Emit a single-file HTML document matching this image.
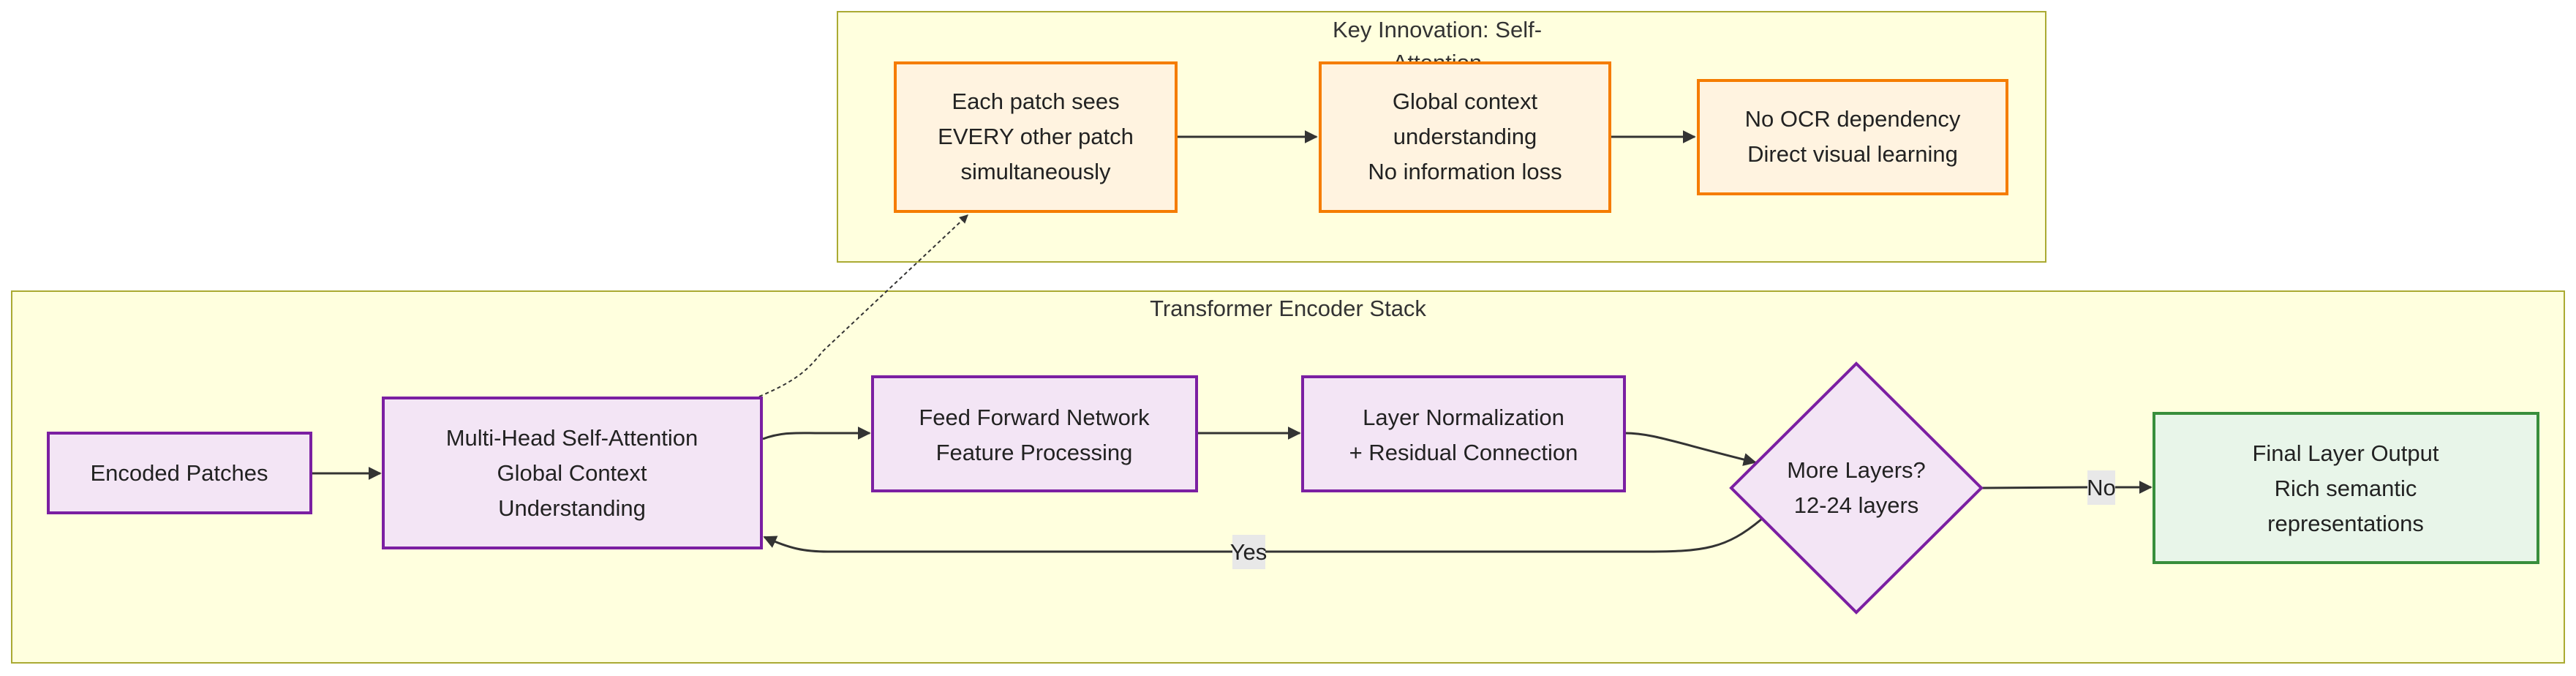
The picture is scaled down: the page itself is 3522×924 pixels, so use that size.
<!DOCTYPE html>
<html><head><meta charset="utf-8"><style>
html,body{margin:0;padding:0;background:#fff;width:3522px;height:924px;overflow:hidden}
text{font-family:"Liberation Sans","DejaVu Sans",sans-serif;font-size:31px;fill:#222}
.t{fill:#333}
</style></head><body>
<svg width="3522" height="924" viewBox="0 0 3522 924" xmlns="http://www.w3.org/2000/svg">
<defs>
<marker id="ah" viewBox="0 0 10 10" refX="9" refY="5" markerWidth="6" markerHeight="6" orient="auto"><path d="M0,0L10,5L0,10z" fill="#333"/></marker>
</defs>
<!-- clusters -->
<rect x="1145" y="16" width="1652" height="342" fill="#ffffde" stroke="#aaaa33" stroke-width="2"/>
<text class="t" x="1965" y="51" text-anchor="middle">Key Innovation: Self-</text>
<text class="t" x="1965" y="96" text-anchor="middle">Attention</text>
<rect x="16" y="398" width="3490" height="508" fill="#ffffde" stroke="#aaaa33" stroke-width="2"/>
<text class="t" x="1761" y="432" text-anchor="middle">Transformer Encoder Stack</text>

<!-- edges -->
<g fill="none" stroke="#333" stroke-width="3">
<path d="M1608 187 L1800 187" marker-end="url(#ah)"/>
<path d="M2201 187 L2317 187" marker-end="url(#ah)"/>
<path d="M425 647 L520 647" marker-end="url(#ah)"/>
<path d="M1043 600 C1070 590 1090 592 1120 592 L1189 592" marker-end="url(#ah)"/>
<path d="M1636 592 L1777 592" marker-end="url(#ah)"/>
<path d="M2221 592 C2260 592 2290 605 2400 632" marker-end="url(#ah)"/>
<path d="M2709 667 L2854 666 M2892 666 L2941 666" marker-end="url(#ah)"/>
<path d="M2408 710 C2360 750 2330 754 2250 754 L1132 754 C1100 754 1080 750 1045 734" marker-end="url(#ah)"/>
<path d="M1038 542 C1090 520 1105 505 1125 480 L1323 294" stroke-width="2" stroke-dasharray="5,4" marker-end="url(#ah)"/>
</g>

<!-- nodes -->
<g stroke-width="4">
<rect x="1224" y="86" width="384" height="203" fill="#fff3e0" stroke="#f57c00"/>
<rect x="1805" y="86" width="396" height="203" fill="#fff3e0" stroke="#f57c00"/>
<rect x="2322" y="110" width="422" height="155" fill="#fff3e0" stroke="#f57c00"/>
<rect x="66" y="592" width="359" height="109" fill="#f3e5f5" stroke="#7b1fa2"/>
<rect x="524" y="544" width="517" height="205" fill="#f3e5f5" stroke="#7b1fa2"/>
<rect x="1193" y="515" width="443" height="156" fill="#f3e5f5" stroke="#7b1fa2"/>
<rect x="1781" y="515" width="440" height="156" fill="#f3e5f5" stroke="#7b1fa2"/>
<polygon points="2538,497 2709,667 2538,837 2367,667" fill="#f3e5f5" stroke="#7b1fa2"/>
<rect x="2945" y="565" width="525" height="204" fill="#e8f5e9" stroke="#388e3c"/>
</g>
<rect x="1685" y="731" width="45" height="47" fill="#e8e8e8"/>
<text x="1707" y="765" text-anchor="middle">Yes</text>
<rect x="2854" y="643" width="38" height="47" fill="#e8e8e8"/>
<text x="2873" y="677" text-anchor="middle">No</text>

<g text-anchor="middle">
<text x="1416" y="149">Each patch sees</text>
<text x="1416" y="197">EVERY other patch</text>
<text x="1416" y="245">simultaneously</text>
<text x="2003" y="149">Global context</text>
<text x="2003" y="197">understanding</text>
<text x="2003" y="245">No information loss</text>
<text x="2533" y="173">No OCR dependency</text>
<text x="2533" y="221">Direct visual learning</text>
<text x="245" y="657">Encoded Patches</text>
<text x="782" y="609">Multi-Head Self-Attention</text>
<text x="782" y="657">Global Context</text>
<text x="782" y="705">Understanding</text>
<text x="1414" y="581">Feed Forward Network</text>
<text x="1414" y="629">Feature Processing</text>
<text x="2001" y="581">Layer Normalization</text>
<text x="2001" y="629">+ Residual Connection</text>
<text x="2538" y="653">More Layers?</text>
<text x="2538" y="701">12-24 layers</text>
<text x="3207" y="630">Final Layer Output</text>
<text x="3207" y="678">Rich semantic</text>
<text x="3207" y="726">representations</text>
</g>
</svg>
</body></html>
